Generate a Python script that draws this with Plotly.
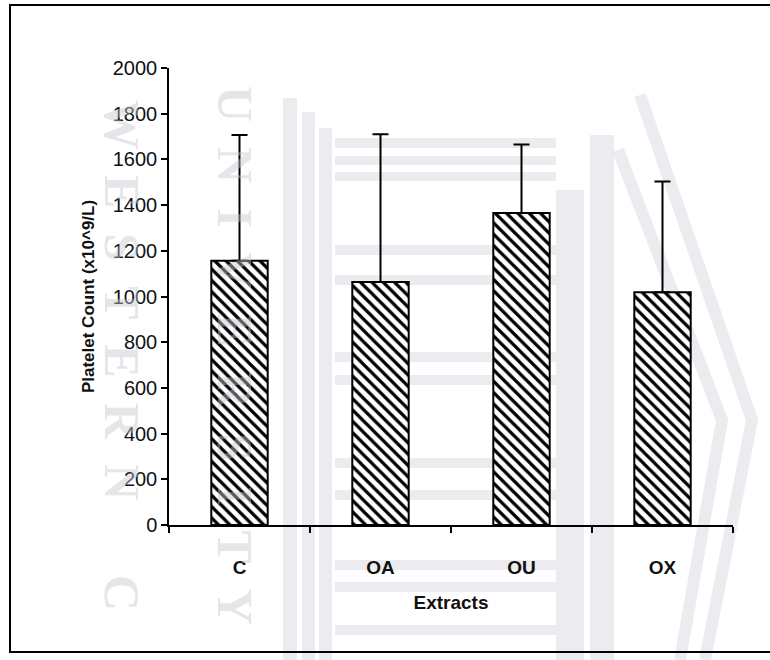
import plotly.graph_objects as go

# ---- data ----
categories = ["C", "OA", "OU", "OX"]
means = [1157, 1063, 1365, 1019]
upper_err = [550, 647, 300, 484]   # mean + SD tops ≈ 1707, 1710, 1665, 1503
y_ticks = [0, 200, 400, 600, 800, 1000, 1200, 1400, 1600, 1800, 2000]

# ---- layout geometry (pixels) ----
W, H = 770, 660
L, R, T, B = 169, 733, 68, 525

def px(x):
    return (x - L) / (R - L)

def py(y):
    return (B - y) / (B - T)

FONT = "Arial, Liberation Sans, sans-serif"
WM = "rgba(205,205,215,0.38)"

fig = go.Figure()
fig.add_trace(go.Bar(
    x=categories,
    y=means,
    width=0.4,
    marker=dict(
        color="white",
        line=dict(color="black", width=2),
        pattern=dict(shape="\\", size=8, solidity=0.4,
                     fgcolor="black", bgcolor="white", fillmode="replace"),
    ),
    error_y=dict(type="data", symmetric=False, array=upper_err,
                 arrayminus=[0] * len(categories),
                 color="black", thickness=2, width=8),
    showlegend=False,
))

shapes = []
# watermark pillars (decorative background)
for (x0, x1, y0, y1) in [(283, 297, 98, 660), (302, 315, 112, 660), (319, 332, 128, 660),
                         (556, 584, 190, 660), (590, 614, 135, 660)]:
    shapes.append(dict(type="rect", xref="paper", yref="paper", layer="below",
                       x0=px(x0), x1=px(x1), y0=py(y1), y1=py(y0),
                       fillcolor=WM, line=dict(width=0)))
for (y0, y1) in [(138, 148), (156, 165), (172, 181), (245, 255), (275, 285),
                 (352, 362), (375, 385), (458, 468), (490, 500), (560, 570), (582, 592),
                 (625, 635)]:
    shapes.append(dict(type="rect", xref="paper", yref="paper", layer="below",
                       x0=px(335), x1=px(556), y0=py(y1), y1=py(y0),
                       fillcolor=WM, line=dict(width=0)))
for pts in [[(640, 95), (752, 420), (705, 660)], [(618, 150), (722, 420), (680, 660)]]:
    path = "M " + " L ".join(f"{px(a)},{py(b)}" for a, b in pts)
    shapes.append(dict(type="path", xref="paper", yref="paper", layer="below",
                       path=path, line=dict(color=WM, width=12)))
# outer frame
shapes.append(dict(type="rect", xref="paper", yref="paper", layer="above",
                   x0=px(10), x1=px(790), y0=py(652), y1=py(5),
                   line=dict(color="black", width=2), fillcolor="rgba(0,0,0,0)"))

annotations = []
for text, xc in [("U\u2002N\u2002I\u2002V\u2002E\u2002R\u2002S\u2002I\u2002T\u2002Y", 205),
                 ("W\u2002E\u2002S\u2002T\u2002E\u2002R\u2002N\u2002\u2002\u2002C", 92)]:
    annotations.append(dict(text="<b>" + text + "</b>", xref="paper", yref="paper",
                            x=px(xc), y=py(355), showarrow=False, textangle=90,
                            font=dict(family="Liberation Serif, serif", size=50,
                                      color="rgba(200,200,208,0.45)")))

fig.update_layout(
    width=W, height=H,
    margin=dict(l=L, r=W - R, t=T, b=H - B, autoexpand=False),
    paper_bgcolor="white",
    plot_bgcolor="rgba(0,0,0,0)",
    font=dict(family=FONT, color="#111"),
    bargap=0.6,
    shapes=shapes,
    annotations=annotations,
    xaxis=dict(
        showline=True, linecolor="black", linewidth=1.5,
        ticks="outside", tickson="boundaries", ticklen=6, tickcolor="black",
        tickwidth=1.5,
        tickfont=dict(size=19, family=FONT, color="#111", weight="bold"),
        ticklabelstandoff=24,
        title=dict(text="<b>Extracts</b>", font=dict(size=19, family=FONT),
                   standoff=19),
        showgrid=False, zeroline=False, automargin=False,
    ),
    yaxis=dict(
        range=[0, 2000], tickvals=y_ticks,
        showline=True, linecolor="black", linewidth=1.5,
        ticks="outside", ticklen=6, tickcolor="black", tickwidth=1.5,
        tickfont=dict(size=20, family=FONT, color="#111"),
        title=dict(text="<b>Platelet Count (x10^9/L)</b>",
                   font=dict(size=17, family=FONT), standoff=14),
        showgrid=False, zeroline=False, automargin=False,
    ),
)

fig.write_html("out.html")
